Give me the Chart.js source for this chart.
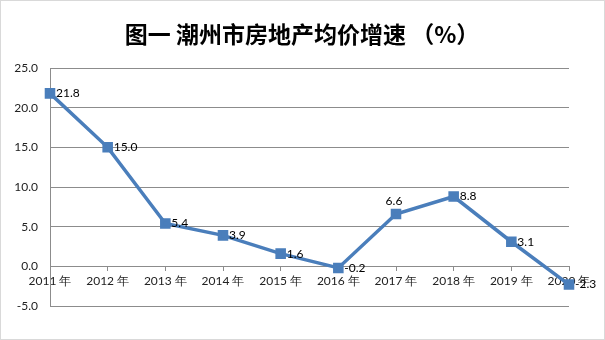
<!DOCTYPE html>
<html>
<head>
<meta charset="utf-8">
<script src="https://cdn.jsdelivr.net/npm/chart.js@4"></script>
<style>
  html, body { margin: 0; padding: 0; background: #fff; }
  #wrap { width: 605px; height: 340px; position: relative; }
</style>
</head>
<body>
<div id="wrap"><canvas id="chart"></canvas></div>
<script>
// ─── Data ───
const years = ['2011 年', '2012 年', '2013 年', '2014 年', '2015 年', '2016 年', '2017 年', '2018 年', '2019 年', '2020 年'];
const growth = [21.8, 15.0, 5.4, 3.9, 1.6, -0.2, 6.6, 8.8, 3.1, -2.3];
const labelAbove = [false, false, false, false, false, false, true, false, false, false];
const titleText = '图一 潮州市房地产均价增速 （%）';

const LINE_COLOR = '#4a7ebb';
const GRID_COLOR = '#8c8c8c';
const TEXT_FONT = 'Lato, "Liberation Sans", sans-serif';

// title, frame and value labels
const decorPlugin = {
    id: 'decor',
    afterDraw(chart) {
        const ctx = chart.ctx;
        ctx.save();
        ctx.strokeStyle = '#d9d9d9';
        ctx.lineWidth = 1;
        ctx.strokeRect(0.5, 0.5, chart.width - 1, chart.height - 1);

        ctx.fillStyle = '#000';
        ctx.font = 'bold 23px "Noto Sans CJK SC", sans-serif';
        ctx.textAlign = 'center';
        ctx.textBaseline = 'middle';
        ctx.fillText(titleText, 302, 34);

        const meta = chart.getDatasetMeta(0);
        ctx.font = '12px ' + TEXT_FONT;
        ctx.fillStyle = '#000';
        meta.data.forEach((pt, i) => {
            const txt = growth[i].toFixed(1);
            if (labelAbove[i]) {
                ctx.textAlign = 'center';
                ctx.textBaseline = 'bottom';
                ctx.fillText(txt, pt.x - 2, pt.y - 7);
            } else {
                ctx.textAlign = 'left';
                ctx.textBaseline = 'middle';
                ctx.fillText(txt, pt.x + 6, pt.y);
            }
        });
        ctx.restore();
    }
};

new Chart(document.getElementById('chart'), {
    type: 'line',
    data: {
        labels: years,
        datasets: [{
            data: growth,
            borderColor: LINE_COLOR,
            backgroundColor: LINE_COLOR,
            borderWidth: 3.5,
            pointStyle: 'rect',
            pointRadius: 5,
            pointHoverRadius: 5,
            tension: 0
        }]
    },
    options: {
        responsive: true, maintainAspectRatio: false,
        animation: false,
        layout: { padding: { top: 68, right: 36, bottom: 34, left: 0 } },
        plugins: {
            legend: { display: false },
            tooltip: { enabled: false },
            title: { display: false }
        },
        scales: {
            x: {
                position: { y: 0 },
                offset: false,
                grid: { display: true, drawOnChartArea: false, drawTicks: true, tickLength: 4, color: GRID_COLOR },
                border: { display: true, color: GRID_COLOR },
                ticks: { color: '#222', font: { family: TEXT_FONT, size: 12 }, padding: 4, maxRotation: 0, autoSkip: false }
            },
            y: {
                min: -5, max: 25,
                afterFit(scale) { scale.width = 50; },
                grid: { color: GRID_COLOR, drawTicks: false },
                border: { display: true, color: GRID_COLOR },
                ticks: {
                    stepSize: 5, padding: 12,
                    color: '#222', font: { family: TEXT_FONT, size: 12 },
                    callback: v => v.toFixed(1)
                }
            }
        }
    },
    plugins: [decorPlugin]
});
</script>
</body>
</html>
